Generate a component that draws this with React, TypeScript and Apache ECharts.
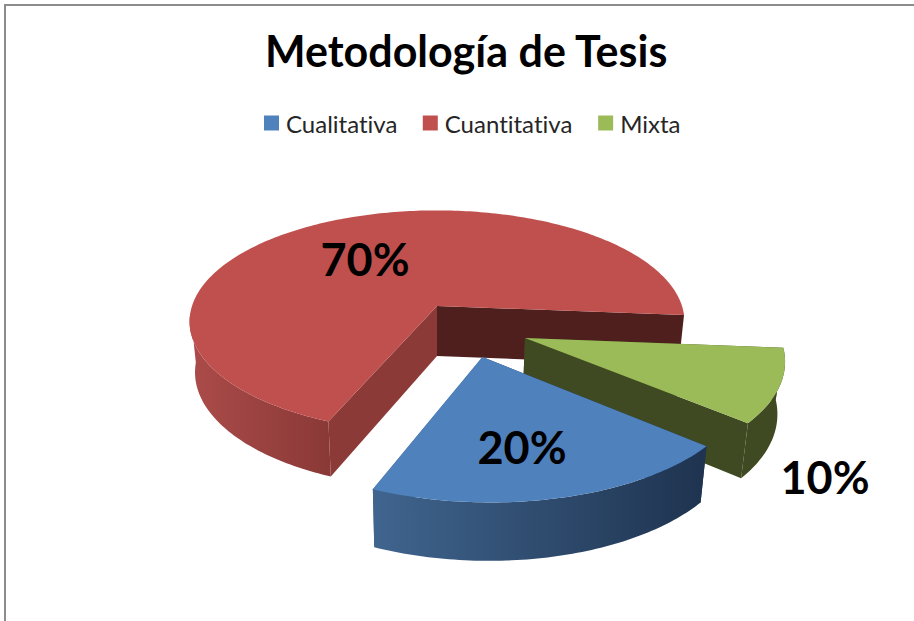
import React, { useEffect, useRef } from "react";
import * as echarts from "echarts";

const titleText = "Metodología de Tesis";
const categories = ["Cualitativa", "Cuantitativa", "Mixta"];
const shares = [20, 70, 10];

// ---- presentation (not data) ----
const FONT = "Lato";
const START_ANGLE = 130.7; // degrees clockwise from the back of the disc
const CX = 437, CY = 306, RX = 245, RY = 109, PERSP = 0.14, DEPTH = 50, BOTTOM_SCALE = 0.978;

type Look = {
  top: string;
  explode: [number, number];
  wall: string | [number, number, string, string];
  faceStart: string;
  faceEnd: string;
  z: number;
  label: [number, number];
};
const looks: Look[] = [
  { top: "#4f81bd", explode: [0.174, 0.439], wall: [371, 700, "#40658f", "#1f3450"], faceStart: "#1f3450", faceEnd: "#40658f", z: 4, label: [522, 447] },
  { top: "#c0504d", explode: [0, 0], wall: [194, 329, "#aa4b49", "#8a3937"], faceStart: "#8c3a38", faceEnd: "#4f1f1e", z: 2, label: [365, 259] },
  { top: "#9bbb59", explode: [0.345, 0.282], wall: "#3f4a22", faceStart: "#3f4a22", faceEnd: "#3f4a22", z: 3, label: [825, 477] },
];

function project(u: number, v: number, low: boolean): number[] {
  const w = 1 / (1 - PERSP * v);
  const x = RX * u * w * (low ? BOTTOM_SCALE : 1);
  const y = RY * v * w + (low ? DEPTH / (1 - 0.1 * v) : 0);
  return [CX + x, CY + y];
}

function sliceElements(index: number) {
  const total = shares.reduce((a, b) => a + b, 0);
  const before = shares.slice(0, index).reduce((a, b) => a + b, 0);
  const a0 = START_ANGLE + (before / total) * 360;
  const a1 = a0 + (shares[index] / total) * 360;
  const look = looks[index];
  const [du, dv] = look.explode;
  const at = (deg: number, r: number, low: boolean) => {
    const t = (deg * Math.PI) / 180;
    return project(du + r * Math.sin(t), dv - r * Math.cos(t), low);
  };
  const steps = Math.max(8, Math.ceil(a1 - a0));
  const angles: number[] = [];
  for (let i = 0; i <= steps; i++) angles.push(a0 + ((a1 - a0) * i) / steps);

  // the outer wall is only drawn for the front-facing run of the arc
  const firstBack = angles.findIndex((d) => Math.cos((d * Math.PI) / 180) > -0.05);
  const front = firstBack < 0 ? angles : angles.slice(0, firstBack);

  const upper = angles.map((d) => at(d, 1, false));
  const wallUpper = front.map((d) => at(d, 1, false));
  const wallLower = front.map((d) => at(d, 1, true));
  const face = (deg: number, fill: string) => ({
    type: "polygon",
    shape: { points: [at(deg, 0, false), at(deg, 1, false), at(deg, 1, true), at(deg, 0, true)] },
    style: { fill },
  });
  const wallFill =
    typeof look.wall === "string"
      ? look.wall
      : new echarts.graphic.LinearGradient(
          look.wall[0], 0, look.wall[1], 0,
          [{ offset: 0, color: look.wall[2] }, { offset: 1, color: look.wall[3] }],
          true
        );
  return [
    face(a0, look.faceStart),
    face(a1, look.faceEnd),
    { type: "polygon", shape: { points: [...wallUpper, ...wallLower.slice().reverse()] }, style: { fill: wallFill } },
    { type: "polygon", shape: { points: [at(a0, 0, false), ...upper] }, style: { fill: look.top } },
    {
      type: "text",
      x: look.label[0],
      y: look.label[1],
      style: {
        text: `${shares[index]}%`,
        fill: "#000",
        font: `bold 45px ${FONT}`,
        align: "center",
        verticalAlign: "middle",
      },
    },
  ];
}

export default function App() {
  const ref = useRef<HTMLDivElement>(null);
  useEffect(() => {
    document.body.style.margin = "0";
    document.body.style.overflow = "hidden";
    const chart = echarts.init(ref.current!, null, { renderer: "svg" });
    chart.setOption({
      animation: false,
      backgroundColor: "#ffffff",
      title: {
        text: titleText,
        left: 265,
        top: 29,
        padding: 0,
        textStyle: { fontFamily: FONT, fontWeight: "bold", fontSize: 43, color: "#000" },
      },
      legend: {
        data: categories,
        left: 264,
        top: 111,
        padding: 0,
        icon: "rect",
        itemWidth: 15,
        itemHeight: 15,
        itemGap: 25,
        selectedMode: false,
        textStyle: { fontFamily: FONT, fontSize: 24, color: "#262626", padding: [0, 0, 5, 2] },
      },
      graphic: [
        { type: "rect", shape: { x: 4, y: 4, width: 910, height: 2 }, style: { fill: "#8c8c8c" } },
        { type: "rect", shape: { x: 4, y: 4, width: 2, height: 617 }, style: { fill: "#8c8c8c" } },
      ],
      series: categories.map((name, i) => ({
        type: "custom",
        name,
        coordinateSystem: "none",
        z: looks[i].z,
        silent: true,
        itemStyle: { color: looks[i].top },
        data: [shares[i]],
        renderItem: () => ({ type: "group", children: sliceElements(i) }),
      })),
    });
    return () => chart.dispose();
  }, []);
  return (
    <>
      <style>{`svg text { font-variant-ligatures: none !important; }`}</style>
      <div ref={ref} style={{ width: 914, height: 621 }} />
    </>
  );
}
